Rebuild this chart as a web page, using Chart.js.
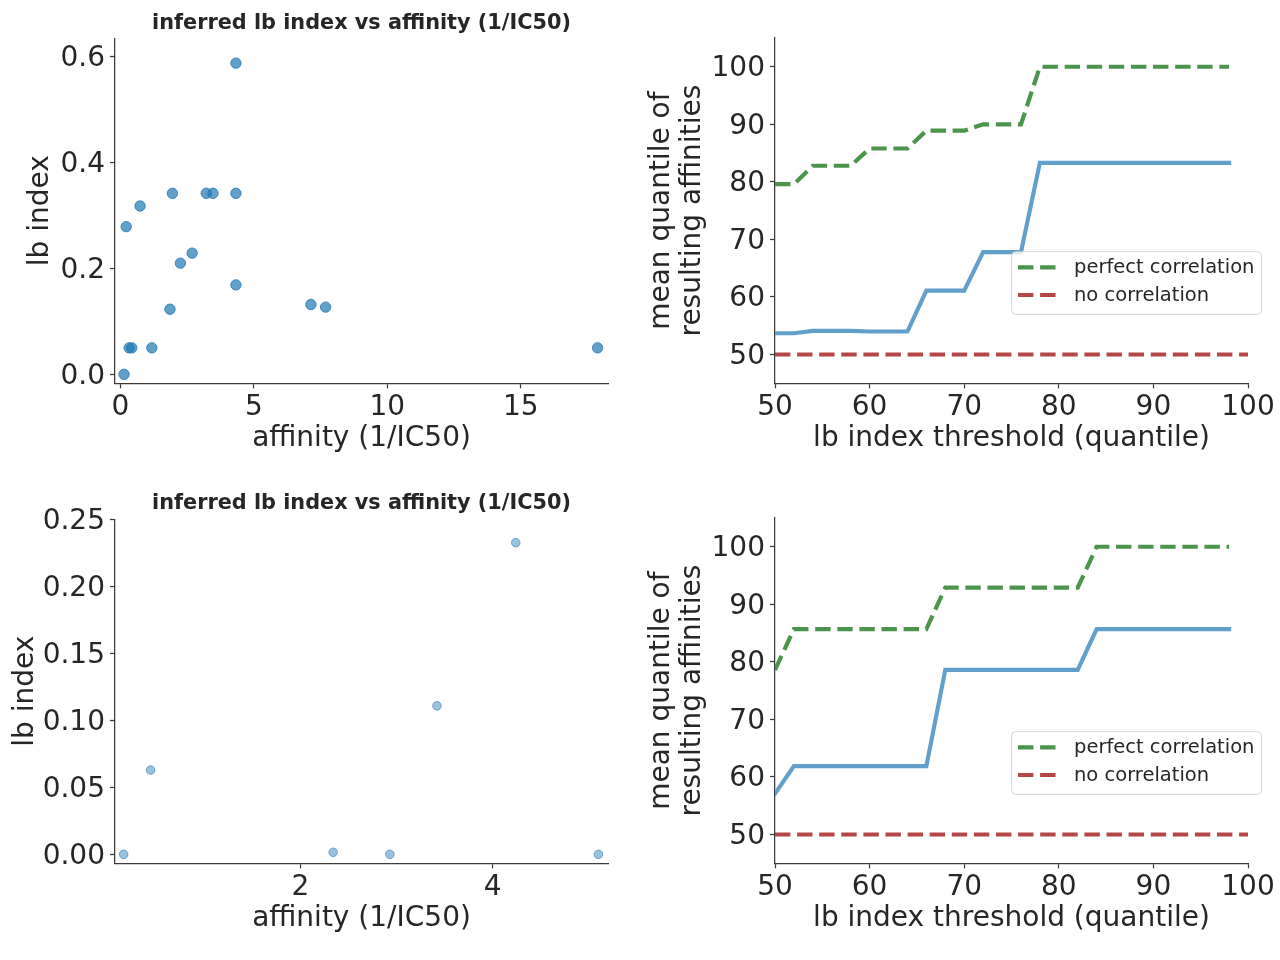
<!DOCTYPE html>
<html>
<head>
<meta charset="utf-8">
<script src="https://cdn.jsdelivr.net/npm/chart.js@4.4.0/dist/chart.umd.min.js"></script>
<style>
  body { margin: 0; background: #fff; }
  #wrap { position: relative; width: 1280px; height: 960px; }
  canvas { position: absolute; }
</style>
</head>
<body>
<div id="wrap">
  <canvas id="scatter-top" width="640" height="480" style="left:0;top:0"></canvas>
  <canvas id="lines-top" width="640" height="480" style="left:640px;top:0"></canvas>
  <canvas id="scatter-bottom" width="640" height="480" style="left:0;top:480px"></canvas>
  <canvas id="lines-bottom" width="640" height="480" style="left:640px;top:480px"></canvas>
</div>
<script>
// --- Data ---

// top row scatter: affinity (1/IC50) vs inferred lb index
const affinityTop = [4.33, 1.95, 3.22, 3.47, 4.33, 0.74, 0.22, 2.69, 2.25, 4.33, 1.86, 7.14, 7.69, 0.33, 0.43, 1.18, 17.88, 0.14];
const lbIndexTop  = [0.588, 0.342, 0.342, 0.342, 0.342, 0.318, 0.279, 0.229, 0.210, 0.169, 0.123, 0.132, 0.127, 0.050, 0.050, 0.050, 0.050, 0.0];

// bottom row scatter
const affinityBottom = [0.16, 0.44, 2.34, 2.93, 3.42, 4.24, 5.10];
const lbIndexBottom  = [0.0, 0.063, 0.0015, 0.0, 0.111, 0.233, 0.0];

// threshold curves
const thresholds = [50, 52, 54, 56, 58, 60, 62, 64, 66, 68, 70, 72, 74, 76, 78, 80, 82, 84, 86, 88, 90, 92, 94, 96, 98];
const observedTop = [53.7, 53.7, 54.1, 54.1, 54.1, 54.0, 54.0, 54.0, 61.1, 61.1, 61.1, 67.8, 67.8, 67.8, 83.3, 83.3, 83.3, 83.3, 83.3, 83.3, 83.3, 83.3, 83.3, 83.3, 83.3];
const perfectTop  = [79.6, 79.6, 82.8, 82.8, 82.8, 85.8, 85.8, 85.8, 88.9, 88.9, 88.9, 90.0, 90.0, 90.0, 100, 100, 100, 100, 100, 100, 100, 100, 100, 100, 100];
const observedBottom = [57.1, 61.9, 61.9, 61.9, 61.9, 61.9, 61.9, 61.9, 61.9, 78.6, 78.6, 78.6, 78.6, 78.6, 78.6, 78.6, 78.6, 85.7, 85.7, 85.7, 85.7, 85.7, 85.7, 85.7, 85.7];
const perfectBottom  = [78.6, 85.7, 85.7, 85.7, 85.7, 85.7, 85.7, 85.7, 85.7, 92.9, 92.9, 92.9, 92.9, 92.9, 92.9, 92.9, 92.9, 100, 100, 100, 100, 100, 100, 100, 100];
const noCorrX = [50, 100];
const noCorrY = [50, 50];

// tick labels
const xTicksScatterTop = [0, 5, 10, 15];
const yTicksScatterTop = [0.0, 0.2, 0.4, 0.6];
const xTicksScatterBottom = [2, 4];
const yTicksScatterBottom = [0.00, 0.05, 0.10, 0.15, 0.20, 0.25];
const xTicksLines = [50, 60, 70, 80, 90, 100];
const yTicksLines = [50, 60, 70, 80, 90, 100];

const scatterTitle = 'inferred lb index vs affinity (1/IC50)';

// --- Styling helpers ---

const FONT = "'DejaVu Sans', sans-serif";
const TEXT = '#262626';
const SPINE = '#3a3a3a';

function toPoints(xs, ys) {
  return xs.map((x, i) => ({ x, y: ys[i] }));
}

function axis(opts) {
  const horizontal = opts.position === 'bottom';
  return {
    type: 'linear',
    position: opts.position,
    min: opts.min,
    max: opts.max,
    afterBuildTicks: s => { s.ticks = opts.ticks.map(v => ({ value: v })); },
    afterFit: s => {
      if (horizontal) s.height = opts.size; else s.width = opts.size;
    },
    border: { display: true, color: SPINE, width: 1.25 },
    grid: { display: true, drawOnChartArea: false, drawTicks: true, tickLength: 5, tickWidth: 1.25, tickColor: SPINE },
    ticks: {
      autoSkip: false, maxRotation: 0, padding: horizontal ? 3 : 5,
      labelOffset: horizontal ? 0 : 2,
      color: TEXT, font: { family: FONT, size: 28 },
      callback: v => opts.digits === undefined ? String(v) : v.toFixed(opts.digits)
    },
    title: {
      display: true, text: opts.title, color: TEXT,
      font: { family: FONT, size: 28, lineHeight: opts.titleLH || 1.2 },
      padding: horizontal ? { top: 0, bottom: 24.6 } : { top: opts.titlePad, bottom: 0 }
    }
  };
}

// legend drawn inside the plot, like matplotlib's
const insideLegend = {
  id: 'insideLegend',
  afterDatasetsDraw(chart) {
    const { ctx, chartArea } = chart;
    const items = chart.data.datasets.filter(d => d.label);
    const x = chartArea.left + 236.7, y = chartArea.top + 213.7, w = 250, h = 62.6;
    ctx.save();
    ctx.beginPath();
    ctx.roundRect(x, y, w, h, 4);
    ctx.fillStyle = 'rgba(255,255,255,0.8)';
    ctx.fill();
    ctx.strokeStyle = 'rgba(204,204,204,0.8)';
    ctx.lineWidth = 1;
    ctx.stroke();
    items.forEach((d, i) => {
      const cy = y + 15.6 + i * 27.7;
      ctx.beginPath();
      ctx.setLineDash(d.borderDash || []);
      ctx.strokeStyle = d.borderColor;
      ctx.lineWidth = d.borderWidth;
      ctx.moveTo(x + 6.3, cy);
      ctx.lineTo(x + 45, cy);
      ctx.stroke();
      ctx.setLineDash([]);
      ctx.fillStyle = TEXT;
      ctx.font = `19.5px ${FONT}`;
      ctx.textBaseline = 'middle';
      ctx.fillText(d.label, x + 62.3, cy + 1);
    });
    ctx.restore();
  }
};

const baseOptions = {
  responsive: false,
  animation: false,
  plugins: { legend: { display: false }, tooltip: { enabled: false } }
};

// --- Scatter charts ---

function scatterChart(id, xs, ys, cfg) {
  return new Chart(document.getElementById(id), {
    type: 'scatter',
    data: {
      datasets: [{
        data: toPoints(xs, ys),
        pointRadius: cfg.radius,
        pointBackgroundColor: `rgba(31,119,180,${cfg.alpha})`,
        pointBorderColor: `rgba(31,119,180,${cfg.alpha + 0.1})`,
        pointBorderWidth: 1
      }]
    },
    options: {
      ...baseOptions,
      layout: { padding: { left: 0, right: 32, top: 0, bottom: 0 } },
      plugins: {
        ...baseOptions.plugins,
        title: {
          display: true, text: scatterTitle, fullSize: false, color: TEXT,
          font: { family: FONT, size: 20.8, weight: 'bold', lineHeight: 1.2 },
          padding: { top: 11, bottom: cfg.titleBottom }
        }
      },
      scales: {
        x: axis({ position: 'bottom', min: cfg.xMin, max: cfg.xMax, ticks: cfg.xTicks, size: 96.7, title: 'affinity (1/IC50)' }),
        y: axis({ position: 'left', min: cfg.yMin, max: cfg.yMax, ticks: cfg.yTicks, digits: cfg.digits, size: 115, title: 'lb index', titlePad: cfg.yTitlePad })
      }
    }
  });
}

scatterChart('scatter-top', affinityTop, lbIndexTop, {
  radius: 5.2, alpha: 0.7, titleBottom: 2.3,
  xMin: -0.2, xMax: 18.27, xTicks: xTicksScatterTop,
  yMin: -0.017, yMax: 0.635, yTicks: yTicksScatterTop, digits: 1, yTitlePad: 23.7
});

scatterChart('scatter-bottom', affinityBottom, lbIndexBottom, {
  radius: 4.3, alpha: 0.45, titleBottom: 3.3,
  xMin: 0.07, xMax: 5.2, xTicks: xTicksScatterBottom,
  yMin: -0.0067, yMax: 0.2505, yTicks: yTicksScatterBottom, digits: 2, yTitlePad: 8.7
});

// --- Threshold line charts ---

function linesChart(id, observed, perfect) {
  const lw = 4.17;
  return new Chart(document.getElementById(id), {
    type: 'line',
    data: {
      datasets: [
        { data: toPoints(thresholds, observed), borderColor: 'rgb(98,160,203)', borderWidth: lw, pointRadius: 0, borderCapStyle: 'square' },
        { label: 'perfect correlation', data: toPoints(thresholds, perfect), borderColor: 'rgb(75,148,75)', borderWidth: lw, borderDash: [15.4, 6.7], pointRadius: 0 },
        { label: 'no correlation', data: toPoints(noCorrX, noCorrY), borderColor: 'rgb(180,70,72)', borderWidth: lw, borderDash: [15.4, 6.7], pointRadius: 0 }
      ]
    },
    options: {
      ...baseOptions,
      layout: { padding: { left: 0, right: 32, top: 38, bottom: 0 } },
      scales: {
        x: axis({ position: 'bottom', min: 50, max: 100, ticks: xTicksLines, size: 96.7, title: 'lb index threshold (quantile)' }),
        y: axis({ position: 'left', min: 45, max: 105, ticks: yTicksLines, size: 135, title: ['mean quantile of', 'resulting affinities'], titlePad: 5.4, titleLH: 1.13 })
      }
    },
    plugins: [insideLegend]
  });
}

linesChart('lines-top', observedTop, perfectTop);
linesChart('lines-bottom', observedBottom, perfectBottom);
</script>
</body>
</html>
